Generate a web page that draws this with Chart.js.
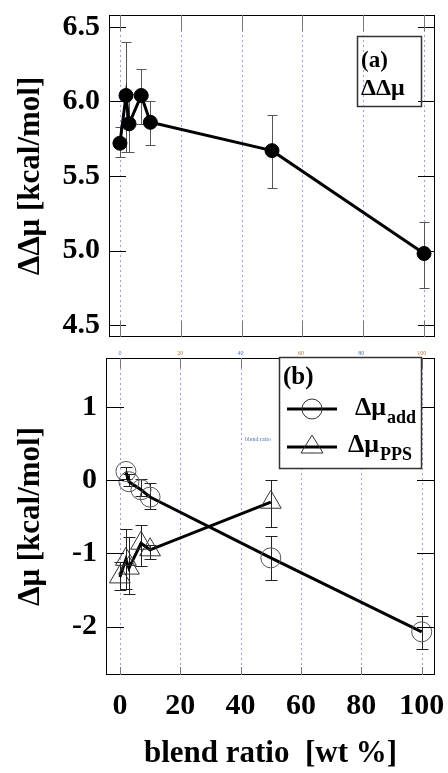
<!DOCTYPE html>
<html><head><meta charset="utf-8">
<script src="https://cdn.jsdelivr.net/npm/chart.js@4"></script>
<style>
html,body{margin:0;padding:0;background:#fff;width:448px;height:773px;overflow:hidden}
#wrapA{position:absolute;left:0;top:0;width:448px;height:345px}
#wrapB{position:absolute;left:0;top:345px;width:448px;height:428px}
canvas{display:block}
</style></head><body>
<div id="wrapA"><canvas id="chartA" width="448" height="345"></canvas></div>
<div id="wrapB"><canvas id="chartB" width="448" height="428"></canvas></div>
<script>
// ---------- data ----------
const blendRatio = [0, 2, 3, 7, 10, 50, 100];
const ddMu     = [5.72, 6.04, 5.85, 6.04, 5.86, 5.67, 4.98];
const ddMuLow  = [5.63, 5.66, 5.66, 5.85, 5.71, 5.42, 4.75];
const ddMuHigh = [5.83, 6.40, 6.05, 6.22, 6.00, 5.91, 5.19];

const addRatio  = [2, 3, 7, 10, 50, 100];
const muAdd     = [0.12, -0.02, -0.13, -0.23, -1.06, -2.07];
const muAddLow  = [0.02, -0.08, -0.22, -0.39, -1.36, -2.30];
const muAddHigh = [0.18, 0.08, 0.02, -0.04, -0.76, -1.86];

const ppsRatio  = [0, 2, 3, 7, 10, 50];
const muPPS     = [-1.32, -1.08, -1.20, -0.86, -0.95, -0.30];
const muPPSLow  = [-1.50, -1.48, -1.56, -1.17, -1.08, -0.64];
const muPPSHigh = [-1.12, -0.67, -0.78, -0.61, -0.88, 0.00];

const xTickValues = [0, 20, 40, 60, 80, 100];
const yTicksA = [4.5, 5.0, 5.5, 6.0, 6.5];
const yTicksB = [-2, -1, 0, 1];

const titleA = 'ΔΔμ [kcal/mol]';
const titleB = 'Δμ [kcal/mol]';
const titleX = 'blend ratio  [wt %]';
const labelAdd = ['Δμ', 'add'];
const labelPPS = ['Δμ', 'PPS'];

// ---------- helpers ----------
const SERIF = "'Liberation Serif', 'Times New Roman', serif";
const pts = (xs, ys) => xs.map((x, i) => ({x: x, y: ys[i]}));

function fixSize(w, h) {
  return function (s) {
    if (w !== null) s.width = w;
    if (h !== null) s.height = h;
    s.paddingLeft = 0; s.paddingRight = 0; s.paddingTop = 0; s.paddingBottom = 0;
  };
}
function setTicks(vals) {
  return function (s) { s.ticks = vals.map(v => ({value: v})); };
}

function drawGrid(chart) {
  const {ctx, chartArea: a} = chart;
  const x = chart.scales.x;
  ctx.save();
  ctx.strokeStyle = 'rgba(120,120,255,0.75)';
  ctx.lineWidth = 1;
  ctx.setLineDash([2, 3]);
  ctx.beginPath();
  xTickValues.forEach(v => {
    const px = Math.round(x.getPixelForValue(v)) + 0.5;
    ctx.moveTo(px, a.top); ctx.lineTo(px, a.bottom);
  });
  ctx.stroke();
  ctx.restore();
}

function drawErrorBars(chart) {
  const {ctx} = chart;
  const x = chart.scales.x, y = chart.scales.y;
  chart.data.datasets.forEach(ds => {
    if (!ds.errLow) return;
    ctx.save();
    ctx.strokeStyle = ds.errColor || '#000';
    ctx.lineWidth = 1;
    const cap = ds.errCap || 5;
    ds.data.forEach((p, i) => {
      const px = Math.round(x.getPixelForValue(p.x)) + 0.5;
      const yl = Math.round(y.getPixelForValue(ds.errLow[i])) + 0.5;
      const yh = Math.round(y.getPixelForValue(ds.errHigh[i])) + 0.5;
      ctx.beginPath();
      ctx.moveTo(px, yl); ctx.lineTo(px, yh);
      ctx.moveTo(px - cap, yl); ctx.lineTo(px + cap, yl);
      ctx.moveTo(px - cap, yh); ctx.lineTo(px + cap, yh);
      ctx.stroke();
    });
    ctx.restore();
  });
}

function drawFrameTicks(chart, yVals, lenY, lenXTop, lenXBot) {
  const {ctx, chartArea: a} = chart;
  const x = chart.scales.x, y = chart.scales.y;
  ctx.save();
  ctx.strokeStyle = '#000';
  ctx.lineWidth = 1;
  ctx.strokeRect(a.left + 0.5, a.top + 0.5, a.right - a.left - 1, a.bottom - a.top - 1);
  ctx.beginPath();
  yVals.forEach(v => {
    const py = Math.round(y.getPixelForValue(v)) + 0.5;
    ctx.moveTo(a.left, py); ctx.lineTo(a.left + lenY, py);
    ctx.moveTo(a.right - lenY, py); ctx.lineTo(a.right, py);
  });
  ctx.stroke();
  ctx.strokeStyle = '#777';
  ctx.beginPath();
  xTickValues.forEach(v => {
    const px = Math.round(x.getPixelForValue(v)) + 0.5;
    ctx.moveTo(px, a.top); ctx.lineTo(px, a.top + lenXTop);
    ctx.moveTo(px, a.bottom); ctx.lineTo(px, a.bottom - lenXBot);
  });
  ctx.stroke();
  ctx.restore();
}

function drawSubLabel(ctx, parts, x, y, big, small) {
  ctx.font = 'bold ' + big + 'px ' + SERIF;
  ctx.fillText(parts[0], x, y);
  const w = ctx.measureText(parts[0]).width;
  ctx.font = 'bold ' + small + 'px ' + SERIF;
  ctx.fillText(parts[1], x + w + 1, y + 8);
}

const noGrid = {display: false, drawTicks: false};

// ---------- chart A ----------
const pluginA = {
  id: 'panelA',
  beforeDatasetsDraw(chart) { drawGrid(chart); drawErrorBars(chart); },
  afterDraw(chart) {
    const ctx = chart.ctx;
    drawFrameTicks(chart, yTicksA, 17, 16, 16);
    ctx.save();
    ctx.strokeStyle = '#333'; ctx.lineWidth = 1.5;
    ctx.strokeRect(357.5, 36.5, 64, 70);
    ctx.fillStyle = '#000';
    ctx.textAlign = 'left'; ctx.textBaseline = 'alphabetic';
    ctx.font = 'bold 23px ' + SERIF;
    ctx.fillText('(a)', 361, 67);
    ctx.font = 'bold 24px ' + SERIF;
    ctx.fillText('ΔΔμ', 361, 95);
    ctx.restore();
  }
};

new Chart(document.getElementById('chartA'), {
  type: 'scatter',
  data: {
    datasets: [{
      label: 'ΔΔμ',
      data: pts(blendRatio, ddMu),
      errLow: ddMuLow, errHigh: ddMuHigh, errColor: '#555', errCap: 5,
      showLine: true,
      borderColor: '#000', borderWidth: 3,
      pointRadius: 7, pointBackgroundColor: '#000', pointBorderColor: '#000', pointBorderWidth: 1
    }]
  },
  options: {
    responsive: false, animation: false, events: [],
    layout: {padding: {left: 0, right: 13, top: 15, bottom: 0}},
    plugins: {legend: {display: false}, tooltip: {enabled: false}},
    scales: {
      x: {
        type: 'linear', min: -3.6, max: 103.6,
        afterBuildTicks: setTicks(xTickValues),
        afterFit: fixSize(null, 5),
        ticks: {display: false},
        grid: noGrid, border: {display: false}
      },
      y: {
        type: 'linear', min: 4.42, max: 6.58,
        afterBuildTicks: setTicks(yTicksA),
        afterFit: fixSize(109, null),
        grid: noGrid,
        border: {display: false},
        ticks: {
          padding: 9, color: '#000',
          font: {family: SERIF, size: 30, weight: 'bold'},
          callback: v => v.toFixed(1)
        },
        title: {
          display: true, text: titleA, color: '#000',
          font: {family: SERIF, size: 31, weight: 'bold'},
          padding: {top: 12, bottom: 0}
        }
      }
    }
  },
  plugins: [pluginA]
});

// ---------- chart B ----------
const pluginB = {
  id: 'panelB',
  beforeDatasetsDraw(chart) { drawGrid(chart); drawErrorBars(chart); },
  afterDraw(chart) {
    const ctx = chart.ctx;
    const x = chart.scales.x;
    drawFrameTicks(chart, yTicksB, 18, 10, 8);
    ctx.save();
    // tiny labels
    ctx.font = '6px ' + SERIF;
    ctx.textAlign = 'center'; ctx.textBaseline = 'middle';
    xTickValues.forEach((v, i) => {
      ctx.fillStyle = i % 2 ? '#c07030' : '#5070c0';
      ctx.fillText(String(v), x.getPixelForValue(v), 8);
    });
    ctx.fillStyle = '#5070b0';
    ctx.fillText('blend ratio', 258, 94);
    // legend box
    ctx.strokeStyle = '#333'; ctx.lineWidth = 1.5;
    ctx.fillStyle = '#fff';
    ctx.fillRect(279, 12, 143, 111);
    ctx.strokeRect(279.5, 12.5, 142, 111);
    ctx.fillStyle = '#000';
    ctx.textAlign = 'left'; ctx.textBaseline = 'alphabetic';
    ctx.font = 'bold 25px ' + SERIF;
    ctx.fillText('(b)', 283, 39);
    // row 1
    ctx.strokeStyle = '#000'; ctx.lineWidth = 3;
    ctx.beginPath(); ctx.moveTo(287, 64); ctx.lineTo(337, 64); ctx.stroke();
    ctx.lineWidth = 1; ctx.strokeStyle = '#333';
    ctx.beginPath(); ctx.arc(312, 64, 10, 0, Math.PI * 2); ctx.stroke();
    drawSubLabel(ctx, labelAdd, 355, 70, 26, 18);
    // row 2
    ctx.strokeStyle = '#000'; ctx.lineWidth = 3;
    ctx.beginPath(); ctx.moveTo(287, 102); ctx.lineTo(337, 102); ctx.stroke();
    ctx.lineWidth = 1; ctx.strokeStyle = '#333';
    ctx.beginPath();
    ctx.moveTo(312, 90); ctx.lineTo(323, 108); ctx.lineTo(301, 108); ctx.closePath();
    ctx.stroke();
    drawSubLabel(ctx, labelPPS, 348, 107, 26, 18);
    ctx.restore();
  }
};

new Chart(document.getElementById('chartB'), {
  type: 'scatter',
  data: {
    datasets: [{
      label: 'Δμadd',
      data: pts(addRatio, muAdd),
      errLow: muAddLow, errHigh: muAddHigh, errColor: '#222', errCap: 6,
      showLine: true,
      borderColor: '#000', borderWidth: 3,
      pointStyle: 'circle', pointRadius: 10,
      pointBackgroundColor: 'rgba(0,0,0,0)', pointBorderColor: '#555', pointBorderWidth: 1
    }, {
      label: 'ΔμPPS',
      data: pts(ppsRatio, muPPS),
      errLow: muPPSLow, errHigh: muPPSHigh, errColor: '#222', errCap: 6,
      showLine: true,
      borderColor: '#000', borderWidth: 3,
      pointStyle: 'triangle', pointRadius: 12,
      pointBackgroundColor: 'rgba(0,0,0,0)', pointBorderColor: '#333', pointBorderWidth: 1
    }]
  },
  options: {
    responsive: false, animation: false, events: [],
    layout: {padding: {left: 0, right: 11, top: 2, bottom: 0}},
    plugins: {legend: {display: false}, tooltip: {enabled: false}},
    scales: {
      x: {
        type: 'linear', min: -4.6, max: 104.4,
        afterBuildTicks: setTicks(xTickValues),
        afterFit: fixSize(null, 98),
        grid: noGrid, border: {display: false},
        ticks: {
          padding: 13, color: '#000', maxRotation: 0, autoSkip: false,
          font: {family: SERIF, size: 30, weight: 'bold'}
        },
        title: {
          display: true, text: titleX, color: '#000',
          font: {family: SERIF, size: 31, weight: 'bold'},
          padding: {top: 0, bottom: 0}
        }
      },
      y: {
        type: 'linear', min: -2.66, max: 1.67,
        afterBuildTicks: setTicks(yTicksB),
        afterFit: fixSize(106, null),
        grid: noGrid,
        border: {display: false},
        ticks: {
          padding: 9, color: '#000',
          font: {family: SERIF, size: 30, weight: 'bold'}
        },
        title: {
          display: true, text: titleB, color: '#000',
          font: {family: SERIF, size: 31, weight: 'bold'},
          padding: {top: 12, bottom: 0}
        }
      }
    }
  },
  plugins: [pluginB]
});
</script>
</body></html>
